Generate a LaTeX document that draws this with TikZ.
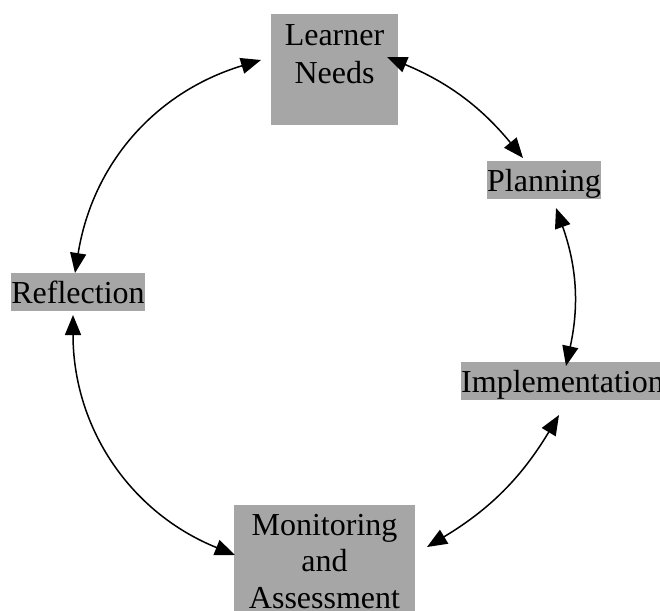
\documentclass[tikz,border=0pt]{standalone}
\usepackage{fontspec}
\setmainfont{Liberation Serif}
\usetikzlibrary{arrows.meta}
\definecolor{boxgray}{RGB}{166,166,166}
\tikzset{
  boxfill/.style={fill=boxgray, inner sep=0pt, draw=none},
  lbl/.style={inner sep=0pt, align=center, font=\fontsize{32}{38.5}\selectfont},
  onebox/.style={fill=boxgray, inner sep=0pt, text height=30pt, text depth=8pt, font=\fontsize{32}{38}\selectfont, anchor=base},
  cyc/.style={line width=1.5pt, {Triangle[length=20pt,width=16pt]}-{Triangle[length=20pt,width=16pt]}}
}
\begin{document}
\begin{tikzpicture}[x=1pt,y=1pt]
\useasboundingbox (0,0) rectangle (660,-610);
% boxes
\node[boxfill, minimum width=127pt, minimum height=111pt] (ln) at (334.5,-69.5) {};
\node[lbl, anchor=north] (lnt) at (ln.north) {\rule{0pt}{31pt}Learner\\Needs};
\node[onebox] (pl) at (544,-191) {Planning};
\node[onebox] (re) at (78,-303) {Reflection};
\node[onebox, anchor=base west] (im) at (461,-392) {Implementation};
\node[boxfill, minimum width=181pt, minimum height=125pt, anchor=north] (mo) at (324.5,-505) {};
\node[lbl, anchor=north, font=\fontsize{32}{36.7}\selectfont] (mot) at (mo.north) {\rule{0pt}{30pt}Monitoring\\and\\Assessment};
% arrow end points
\coordinate (a1s) at (261,-60);
\coordinate (a1e) at (75,-273);
\coordinate (a2s) at (387,-57);
\coordinate (a2e) at (523,-158);
\coordinate (a3s) at (556,-208);
\coordinate (a3e) at (566,-366);
\coordinate (a4s) at (559,-415);
\coordinate (a4e) at (427,-547);
\coordinate (a5s) at (73,-315);
\coordinate (a5e) at (235,-555);
% connectors
\draw[cyc] (a1s) to[bend right=32] (a1e);
\draw[cyc] (a2s) to[bend left=14] (a2e);
\draw[cyc] (a3s) to[bend left=16] (a3e);
\draw[cyc] (a4s) to[bend left=14] (a4e);
\draw[cyc] (a5s) to[bend right=34] (a5e);
\end{tikzpicture}
\end{document}
